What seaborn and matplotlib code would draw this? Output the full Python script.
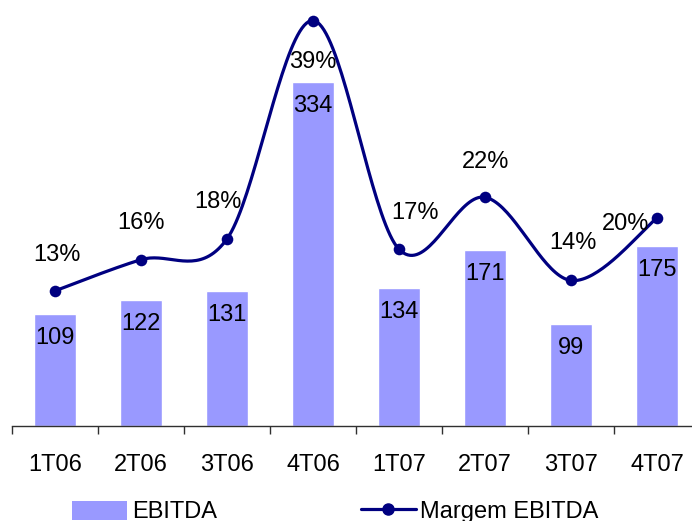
import numpy as np
import pandas as pd
import matplotlib
matplotlib.use("Agg")
import matplotlib.pyplot as plt
from matplotlib.lines import Line2D
from matplotlib.patches import Patch
import seaborn as sns

# Quarterly EBITDA and EBITDA margin
quarters = ["1T06", "2T06", "3T06", "4T06", "1T07", "2T07", "3T07", "4T07"]
ebitda = [109, 122, 131, 334, 134, 171, 99, 175]
margin = [13, 16, 18, 39, 17, 22, 14, 20]

# label offsets (pixels) for the margin labels relative to each point
margin_dx = [2, 0, -9, 0, 16, 1, 2, -31]
margin_dy = [36, 37, 37, -41, 36, 35, 37, -6]

BAR_COLOR = "#9999FF"
LINE_COLOR = "#000080"

sns.set_theme(style="white")
plt.rcParams["font.family"] = ["Liberation Sans", "DejaVu Sans"]

df = pd.DataFrame({"quarter": quarters, "ebitda": ebitda, "margin": margin})

fig = plt.figure(figsize=(6.92, 5.21), dpi=100)
W, H = 692, 521
ax = fig.add_axes([12 / W, (H - 426) / H, 688 / W, 420 / H])

sns.barplot(data=df, x="quarter", y="ebitda", color=BAR_COLOR, width=0.48,
            saturation=1, ax=ax)
ax.set_xlim(-0.5, 7.5)
ax.set_ylim(0, 407.8)

for i, v in enumerate(ebitda):
    ax.annotate(f"{v}", (i, v), xytext=(0, -24), textcoords="offset pixels",
                ha="center", va="center", fontsize=17, color="black")

# margin on a hidden secondary axis, drawn as a smoothed curve
ax2 = ax.twinx()
ax2.set_ylim(0, 40.4)
ax2.axis("off")

xs = np.arange(len(margin), dtype=float)
ys = np.array(margin, dtype=float)
px = np.concatenate([[xs[0]], xs, [xs[-1]]])
py = np.concatenate([[ys[0]], ys, [ys[-1]]])
cx, cy = [], []
t = np.linspace(0, 1, 40)
for k in range(1, len(px) - 2):
    p0 = np.array([px[k], py[k]])
    p3 = np.array([px[k + 1], py[k + 1]])
    c1 = p0 + (np.array([px[k + 1], py[k + 1]]) - np.array([px[k - 1], py[k - 1]])) / 6
    c2 = p3 - (np.array([px[k + 2], py[k + 2]]) - np.array([px[k], py[k]])) / 6
    b = ((1 - t) ** 3)[:, None] * p0 + (3 * (1 - t) ** 2 * t)[:, None] * c1 \
        + (3 * (1 - t) * t ** 2)[:, None] * c2 + (t ** 3)[:, None] * p3
    cx.extend(b[:, 0])
    cy.extend(b[:, 1])
ax2.plot(cx, cy, color=LINE_COLOR, lw=2.3, solid_capstyle="round", clip_on=False)
sns.scatterplot(x=xs, y=ys, color=LINE_COLOR, s=70, edgecolor=LINE_COLOR,
                linewidth=0, ax=ax2, clip_on=False, zorder=5)

for i, v in enumerate(margin):
    ax2.annotate(f"{v}%", (i, v), xytext=(margin_dx[i], margin_dy[i]),
                 textcoords="offset pixels", ha="center", va="center",
                 fontsize=17, color="black")

# axis styling
for s in ["top", "right", "left"]:
    ax.spines[s].set_visible(False)
ax.spines["bottom"].set_color("#303030")
ax.spines["bottom"].set_linewidth(1.0)
ax.set_yticks([])
ax.set_xlabel("")
ax.set_ylabel("")
ax.set_xticks(range(len(quarters)))
ax.set_xticklabels(quarters, fontsize=17, color="black")
ax.set_xticks(np.arange(-0.5, 8.0, 1.0), minor=True)
ax.tick_params(axis="x", which="major", length=0, pad=20.5)
ax.tick_params(axis="x", which="minor", length=6, width=1, color="#303030",
               direction="out", bottom=True)

handles = [Patch(facecolor=BAR_COLOR, edgecolor="none", label="EBITDA"),
           Line2D([0], [0], color=LINE_COLOR, lw=2.3, marker="o", markersize=8,
                  label="Margem EBITDA")]
leg = fig.legend(handles=handles, loc="center left", bbox_to_anchor=(72 / W, 9 / H),
                 ncol=2, frameon=False, fontsize=17, borderpad=0, borderaxespad=0,
                 handlelength=2.33, handleheight=0.9, handletextpad=0.2,
                 columnspacing=6.1)
for txt in leg.get_texts():
    txt.set_color("black")

fig.savefig("out.png", dpi=100)
